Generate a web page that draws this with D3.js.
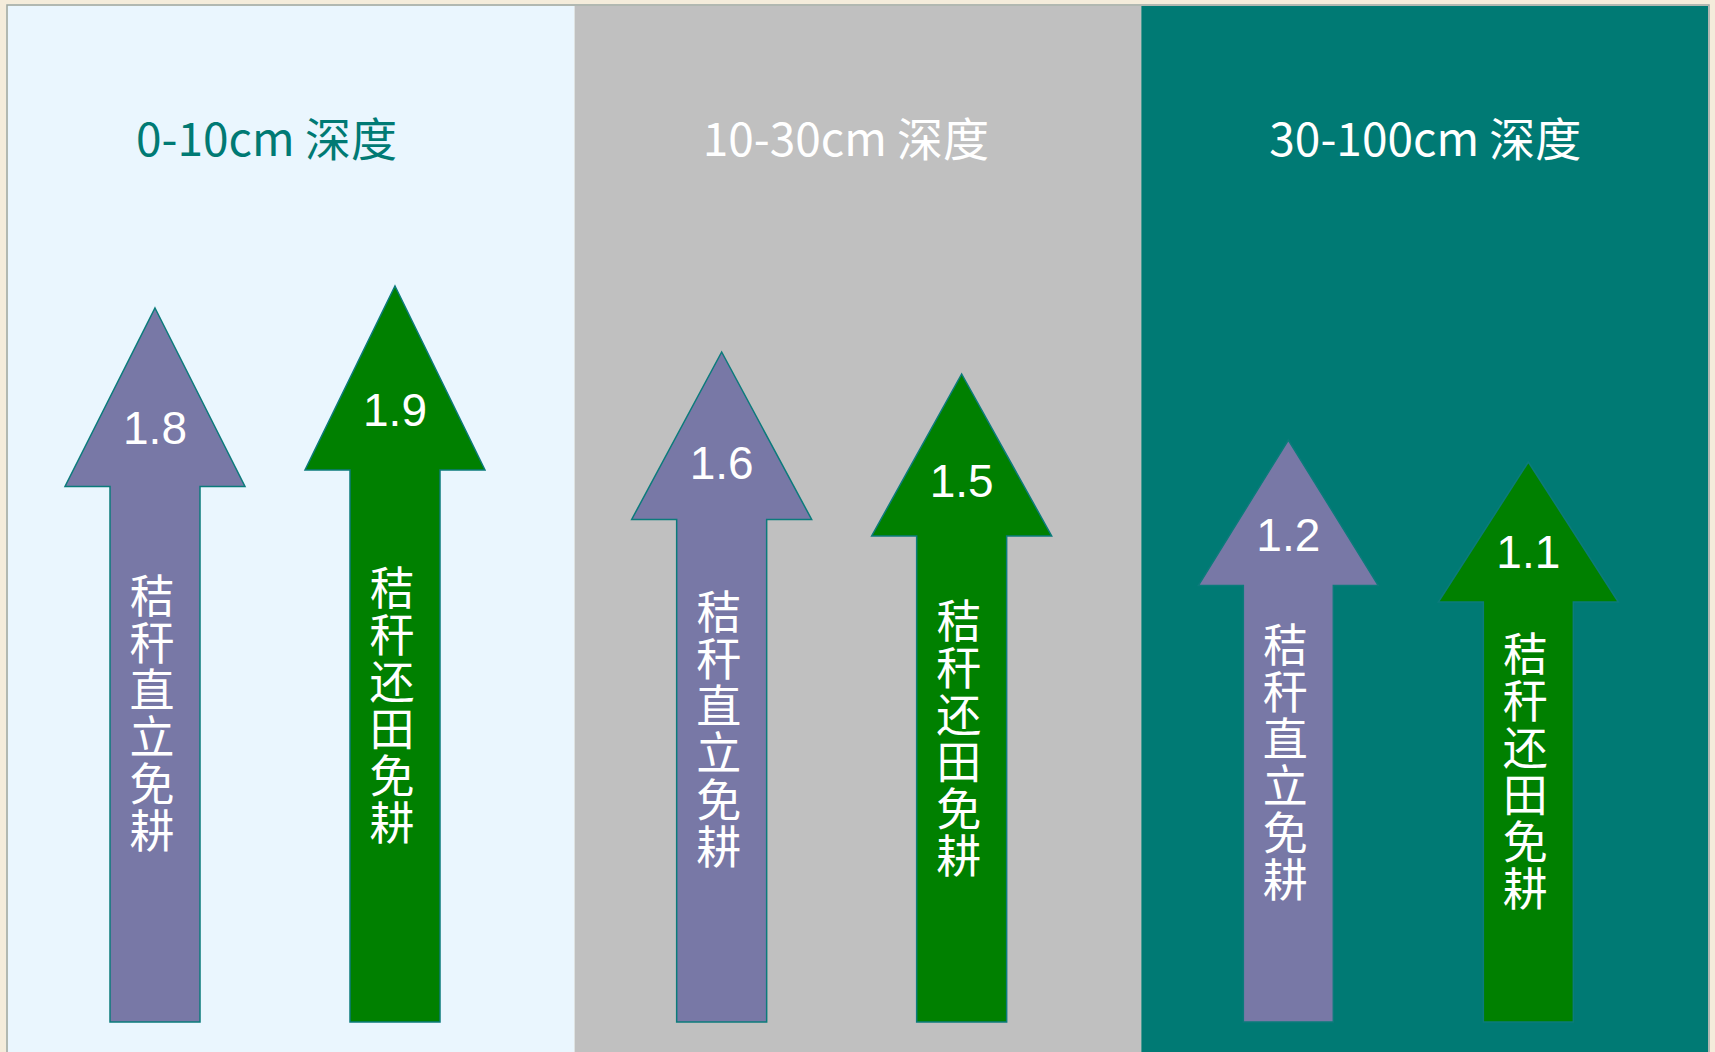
<!DOCTYPE html>
<html>
<head>
<meta charset="utf-8">
<script src="https://cdn.jsdelivr.net/npm/d3@7"></script>
<style>
  html, body { margin: 0; padding: 0; background: #f4ecdb; }
  svg { display: block; }
</style>
</head>
<body>
<svg id="chart" width="1715" height="1052"></svg>
<script>
// Soil depth layers and the two no-till practices compared in each layer
const depths = ["0-10cm 深度", "10-30cm 深度", "30-100cm 深度"];
const practices = ["秸秆直立免耕", "秸秆还田免耕"];
const standingValues = [1.8, 1.6, 1.2];   // 秸秆直立免耕
const returnedValues = [1.9, 1.5, 1.1];   // 秸秆还田免耕

const W = 1715, H = 1052;
const panelFill = ["#eaf6fe", "#c0c0c0", "#007a74"];
const titleFill = ["#007a74", "#ffffff", "#ffffff"];
const arrowFill = { "秸秆直立免耕": "#7878a6", "秸秆还田免耕": "#008000" };

const rows = depths.flatMap((depth, i) => [
  { depth, i, practice: practices[0], value: standingValues[i] },
  { depth, i, practice: practices[1], value: returnedValues[i] }
]);

const svg = d3.select("#chart");

// background
svg.append("rect").attr("width", W).attr("height", H).attr("fill", "#f4ecdb");

// one panel per depth
const x = d3.scaleBand().domain(depths).range([8, 1708]);
const xIn = d3.scalePoint().domain(practices).range([147, 387]);
// arrow tip height from value
const y = d3.scaleLinear().domain([1, 2]).range([484, 264]);
const baseY = 1022;
const headW = 180, shaftW = 90;

svg.append("rect")
  .attr("x", 7).attr("y", 5).attr("width", 1702).attr("height", H)
  .attr("fill", "none").attr("stroke", "#9aa6a4").attr("stroke-width", 1.5);

const panels = svg.selectAll("g.panel").data(depths).join("g").attr("class", "panel");
panels.append("rect")
  .attr("x", d => x(d)).attr("y", 6)
  .attr("width", x.bandwidth()).attr("height", H - 6)
  .attr("fill", (d, i) => panelFill[i]);
panels.append("text")
  .attr("x", d => x(d) + 128).attr("y", 156)
  .attr("fill", (d, i) => titleFill[i])
  .style("font-family", "'Noto Sans CJK SC', sans-serif")
  .style("font-size", "46px")
  .text(d => d);

// arrows
const arrows = svg.selectAll("g.arrow").data(rows).join("g").attr("class", "arrow");

function geom(d) {
  const cx = x(d.depth) + xIn(d.practice);
  const tip = y(d.value);
  const len = baseY - tip;
  const headH = 0.25 * len;
  return { cx, tip, headH, headBase: tip + headH };
}

arrows.append("path")
  .attr("d", d => {
    const g = geom(d);
    const p = d3.path();
    p.moveTo(g.cx, g.tip);
    p.lineTo(g.cx + headW / 2, g.headBase);
    p.lineTo(g.cx + shaftW / 2, g.headBase);
    p.lineTo(g.cx + shaftW / 2, baseY);
    p.lineTo(g.cx - shaftW / 2, baseY);
    p.lineTo(g.cx - shaftW / 2, g.headBase);
    p.lineTo(g.cx - headW / 2, g.headBase);
    p.closePath();
    return p.toString();
  })
  .attr("fill", d => arrowFill[d.practice])
  .attr("stroke", "#0b7b7b")
  .attr("stroke-width", 1.5);

// value in the arrow head
arrows.append("text")
  .attr("x", d => geom(d).cx)
  .attr("y", d => { const g = geom(d); return g.tip + 0.76 * g.headH; })
  .attr("text-anchor", "middle")
  .attr("fill", "#ffffff")
  .style("font-family", "'Liberation Sans', Arial, sans-serif")
  .style("font-size", "46px")
  .text(d => d.value.toFixed(1));

// practice name written top-to-bottom in the shaft
arrows.append("text")
  .attr("x", d => geom(d).cx - 3)
  .attr("y", d => (geom(d).headBase + baseY) / 2 - 40)
  .attr("text-anchor", "middle")
  .attr("fill", "#ffffff")
  .style("writing-mode", "vertical-rl")
  .style("text-orientation", "upright")
  .style("letter-spacing", "2px")
  .style("font-family", "'Noto Sans CJK SC', sans-serif")
  .style("font-size", "45px")
  .text(d => d.practice);
</script>
</body>
</html>
